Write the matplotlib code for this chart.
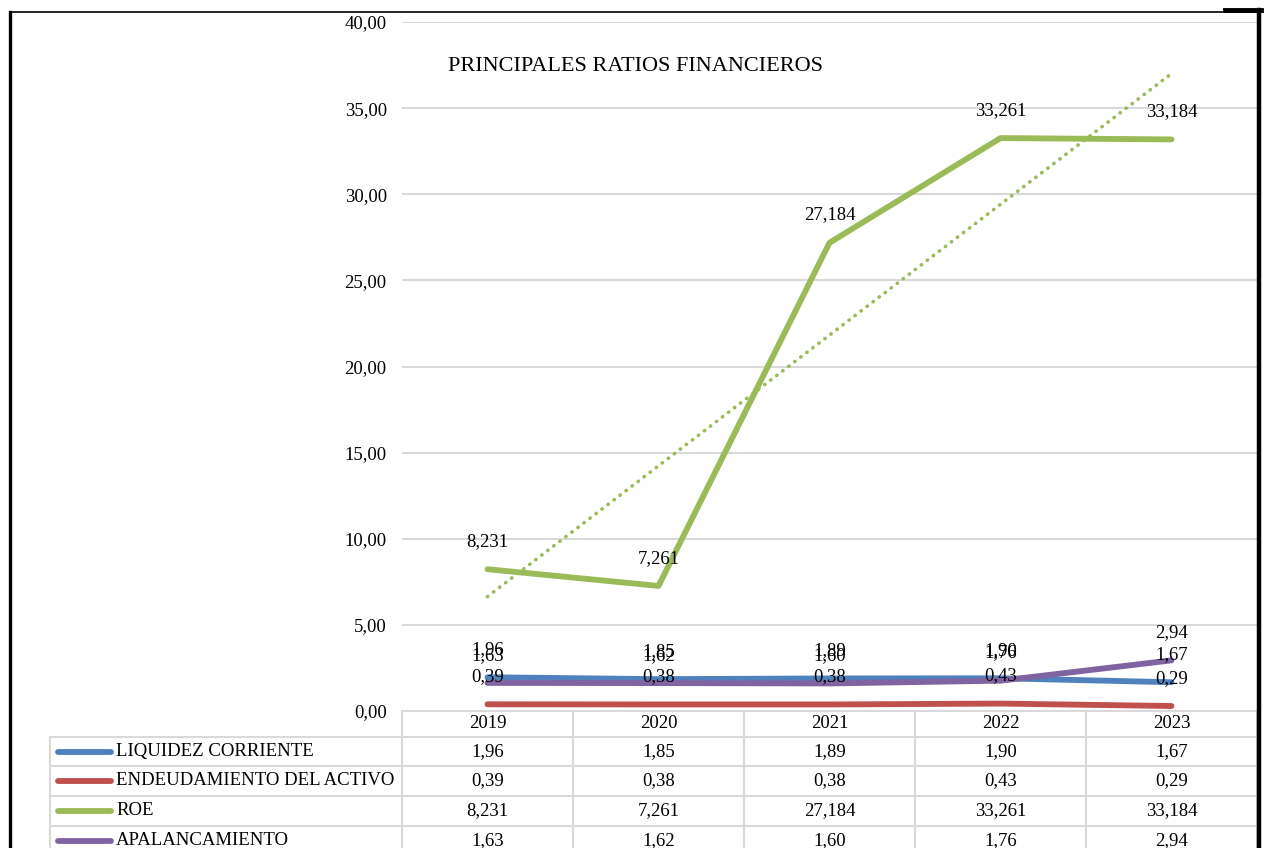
import matplotlib.pyplot as plt
import matplotlib
import numpy as np

matplotlib.rcParams['font.family'] = ['Liberation Serif', 'DejaVu Serif']

years = ['2019', '2020', '2021', '2022', '2023']
liquidez = [1.96, 1.85, 1.89, 1.90, 1.67]
endeudamiento = [0.39, 0.38, 0.38, 0.43, 0.29]
roe = [8.231, 7.261, 27.184, 33.261, 33.184]
apalancamiento = [1.63, 1.62, 1.60, 1.76, 2.94]

names = ['LIQUIDEZ CORRIENTE', 'ENDEUDAMIENTO DEL ACTIVO', 'ROE', 'APALANCAMIENTO']
series = [liquidez, endeudamiento, roe, apalancamiento]
decimals = [2, 2, 3, 2]
colors = ['#4F81BD', '#C0504D', '#9BBB59', '#8064A2']

W, H = 1267, 848
FS = 13.5
grid_c = '#D9D9D9'

def fmt(v, d):
    return f"{v:.{d}f}".replace('.', ',')

fig = plt.figure(figsize=(W / 100, H / 100), dpi=100)

# pixel geometry of the plot area
left, right, top, bottom = 402, 1257, 22, 711
ax = fig.add_axes([left / W, 1 - bottom / H, (right - left) / W, (bottom - top) / H])
x = np.arange(len(years))
ax.set_xlim(-0.5, len(years) - 0.5)
ax.set_ylim(0, 40)
ax.set_yticks(np.arange(0, 41, 5))
ax.set_yticklabels([fmt(v, 2) for v in np.arange(0, 41, 5)], fontsize=FS)
ax.tick_params(axis='y', length=0, pad=11)
ax.set_xticks([])
for s in ax.spines.values():
    s.set_visible(False)
ax.yaxis.grid(True, color=grid_c, lw=1.5)
ax.set_axisbelow(True)

for vals, c, d in zip(series, colors, decimals):
    ax.plot(x, vals, color=c, lw=4.2, solid_capstyle='round', solid_joinstyle='round', zorder=3)
    for xi, v in zip(x, vals):
        ax.annotate(fmt(v, d), (xi, v), xytext=(0, 20), textcoords='offset points',
                    ha='center', va='center', fontsize=FS, zorder=5)

# linear trend for ROE
k, b = np.polyfit(x, roe, 1)
ax.plot(x, k * x + b, color=colors[2], lw=2.6, linestyle=(0, (0.1, 2.0)),
        dash_capstyle='round', zorder=4)

ax.text(0.054, 0.935, 'PRINCIPALES RATIOS FINANCIEROS', transform=ax.transAxes,
        fontsize=16, ha='left', va='center')

# overlay in pixel coordinates for the data table and border
ov = fig.add_axes([0, 0, 1, 1], facecolor='none')
ov.set_xlim(0, W)
ov.set_ylim(H, 0)
ov.axis('off')

col_w = (right - left) / len(years)
rows_y = [737, 766, 796, 826]
for yy in [bottom] + rows_y:
    x0 = left if yy == bottom else 50
    ov.plot([x0, right], [yy, yy], color=grid_c, lw=1.5)
ov.plot([50, 50], [737, H], color=grid_c, lw=1.5)
for i in range(len(years) + 1):
    xx = left + i * col_w
    ov.plot([xx, xx], [bottom, H], color=grid_c, lw=1.5)

for i, yr in enumerate(years):
    ov.text(left + (i + 0.5) * col_w, 724, yr, ha='center', va='center', fontsize=FS)

for r, (name, vals, c, d) in enumerate(zip(names, series, colors, decimals)):
    yc = rows_y[r] + 14.5
    ov.plot([58, 111], [yc, yc], color=c, lw=4.2, solid_capstyle='round')
    ov.text(116, yc, name, ha='left', va='center', fontsize=FS)
    for i, v in enumerate(vals):
        ov.text(left + (i + 0.5) * col_w, yc, fmt(v, d), ha='center', va='center', fontsize=FS)

# page border
ov.plot([10, 10], [12, H], color='black', lw=2.4)
ov.plot([10, 1259], [12, 12], color='black', lw=1.2)
ov.plot([1259, 1259], [10, H], color='black', lw=3.2)
ov.plot([1225, 1261], [10, 10], color='black', lw=3.5)

fig.savefig('out.png', dpi=100)
